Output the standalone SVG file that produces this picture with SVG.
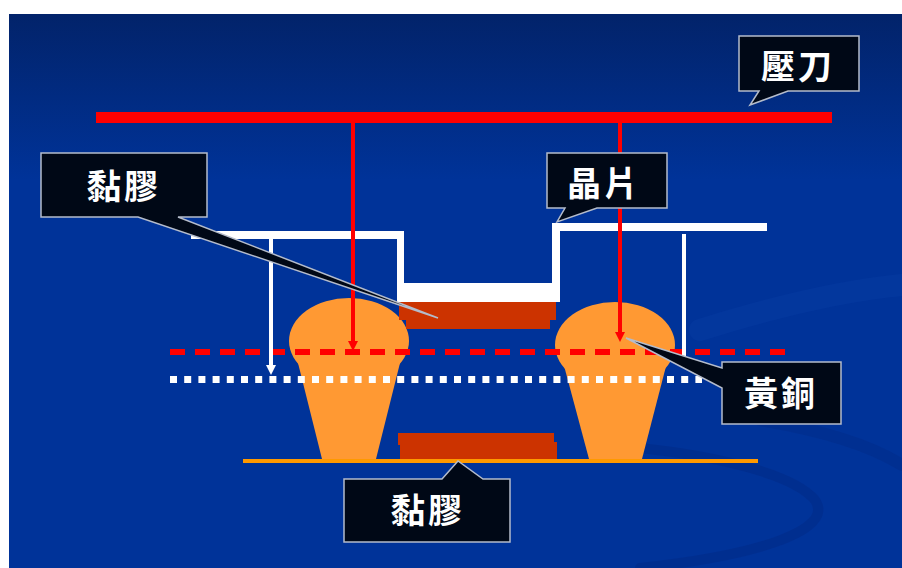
<svg xmlns="http://www.w3.org/2000/svg" width="902" height="568" viewBox="0 0 902 568">
  <defs>
    <linearGradient id="bg" x1="0" y1="14" x2="0" y2="180" gradientUnits="userSpaceOnUse">
      <stop offset="0" stop-color="#02236a"/>
      <stop offset="1" stop-color="#003399"/>
    </linearGradient>
    <!-- downward-pointing arrowheads (all travel arrows are vertical) -->
    <marker id="arrRed" viewBox="0 0 10 10" refX="5" refY="0" markerWidth="10" markerHeight="10" markerUnits="userSpaceOnUse">
      <path d="M0,0 L10,0 L5,10 Z" fill="#ff0000"/>
    </marker>
    <marker id="arrWhite" viewBox="0 0 10 10" refX="5" refY="0" markerWidth="10" markerHeight="10" markerUnits="userSpaceOnUse">
      <path d="M0,0 L10,0 L5,10 Z" fill="#ffffff"/>
    </marker>
  </defs>
  <style>
    .callout { fill: #000816; stroke: #b4bccb; stroke-width: 1.5; stroke-linejoin: miter; }
    .label { fill: #ffffff; font-family: "Noto Sans CJK TC", "Noto Sans CJK SC", sans-serif; font-weight: bold; font-size: 34px; text-anchor: middle; letter-spacing: 3px; }
    .brass { fill: #ff9933; }
    .glue { fill: #cc3300; }
    .press { stroke: #ff0000; stroke-width: 4; fill: none; }
    .guide { stroke: #ffffff; stroke-width: 4; fill: none; }
  </style>

  <!-- slide background -->
  <rect x="0" y="0" width="902" height="568" fill="#ffffff"/>
  <rect x="9" y="14" width="893" height="554" fill="url(#bg)"/>
  <!-- faint template swirls -->
  <g fill="none" stroke-linecap="round">
    <path d="M600,445 C690,450 790,470 815,500 C835,530 760,555 640,568" stroke="#002a85" stroke-width="10" opacity="0.5"/>
    <path d="M760,420 C820,430 870,445 902,465" stroke="#002a85" stroke-width="12" opacity="0.4"/>
    <path d="M700,330 C780,305 850,290 902,285" stroke="#0a3ea6" stroke-width="22" opacity="0.35"/>
  </g>

  <!-- base plate -->
  <g id="base">
    <rect x="243" y="459" width="515" height="4" fill="#ff9900"/>
  </g>

  <!-- brass posts -->
  <g id="brass-left" class="brass">
    <ellipse cx="349" cy="341" rx="60" ry="43"/>
    <polygon points="293,343 405,343 376,459 322,459"/>
  </g>
  <g id="brass-right" class="brass">
    <ellipse cx="615" cy="345" rx="60" ry="43"/>
    <polygon points="559,347 671,347 642,459 589,459"/>
  </g>

  <!-- adhesive layers -->
  <g id="glue-top" class="glue">
    <rect x="399" y="302" width="157" height="18"/>
    <rect x="406" y="312" width="144" height="17"/>
  </g>
  <g id="glue-bottom" class="glue">
    <rect x="398" y="433" width="156" height="12"/>
    <rect x="400" y="442" width="157" height="17"/>
  </g>

  <!-- wafer -->
  <g id="wafer" fill="#ffffff">
    <rect x="191" y="231" width="213" height="8"/>
    <rect x="397" y="231" width="7" height="71"/>
    <rect x="397" y="283" width="163" height="19"/>
    <rect x="552" y="223" width="8" height="79"/>
    <rect x="552" y="223" width="215" height="8"/>
  </g>

  <!-- press bar -->
  <g id="press">
    <rect x="96" y="112" width="736" height="11" fill="#ff0000"/>
  </g>

  <!-- connectors: reference lines and travel arrows -->
  <g id="connectors">
    <line x1="170" y1="352" x2="786" y2="352" stroke="#ff0000" stroke-width="6" stroke-dasharray="15 10"/>
    <line x1="170" y1="379.5" x2="702" y2="379.5" stroke="#ffffff" stroke-width="7" stroke-dasharray="7 7.2"/>
    <line class="press" x1="353" y1="123" x2="353" y2="341" marker-end="url(#arrRed)"/>
    <line class="press" x1="620" y1="123" x2="620" y2="332" marker-end="url(#arrRed)"/>
    <line class="guide" x1="271" y1="237" x2="271" y2="365" marker-end="url(#arrWhite)"/>
    <line class="guide" x1="684" y1="234" x2="684" y2="358" marker-end="url(#arrWhite)"/>
  </g>

  <!-- callouts -->
  <g id="label-press">
    <path class="callout" d="M739,36 H859 V91 H788 L750,105 L759,91 H739 Z"/>
    <text class="label" x="798" y="79">壓刀</text>
  </g>
  <g id="label-glue-top">
    <path class="callout" d="M41,153 H207 V217 H178 L438,318 L138,217 H41 Z"/>
    <text class="label" x="124" y="199">黏膠</text>
  </g>
  <g id="label-wafer">
    <path class="callout" d="M547,153 H667 V208 H597 L557,222 L565,208 H547 Z"/>
    <text class="label" x="604" y="196">晶片</text>
  </g>
  <g id="label-brass">
    <path class="callout" d="M722,362 H841 V424 H722 V388 L626,338 L722,368 Z"/>
    <text class="label" x="781" y="406">黃銅</text>
  </g>
  <g id="label-glue-bottom">
    <path class="callout" d="M344,479 H442 L458,461 L483,479 H510 V542 H344 Z"/>
    <text class="label" x="428" y="523">黏膠</text>
  </g>
</svg>
